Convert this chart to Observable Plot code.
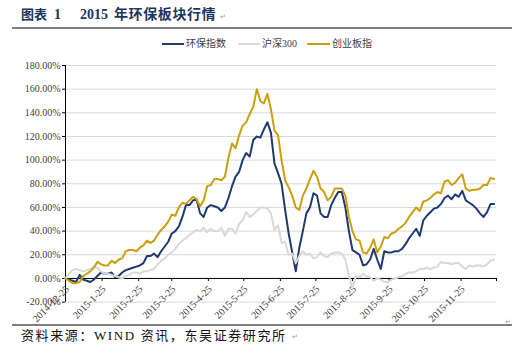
<!DOCTYPE html>
<html>
<head>
<meta charset="utf-8">
<script src="https://cdn.jsdelivr.net/npm/d3@7"></script>
<script src="https://cdn.jsdelivr.net/npm/@observablehq/plot@0.6"></script>
<style>
  body { margin: 0; background: #fff; }
  #wrap { position: relative; width: 512px; height: 353px; overflow: hidden; background: #fff; }
  .abs { position: absolute; white-space: nowrap; }
  .title { font-family: "Liberation Serif", "Noto Sans CJK SC", serif; font-weight: bold; font-size: 14px; color: #1b3560; line-height: 18px; top: 6px; }
  .rule { position: absolute; left: 12px; width: 500px; height: 2px; background: #7f7f7f; }
  .leg { font-family: "Liberation Serif", "Noto Sans CJK SC", serif; font-size: 10px; color: #404040; line-height: 14px; top: 37px; }
  .sw { position: absolute; height: 2px; top: 43px; }
  .cap { font-family: "Liberation Serif", "Noto Sans CJK SC", serif; font-size: 13px; color: #111; line-height: 16px; top: 328px; left: 21px; letter-spacing: 1.6px; }
  .pm { font-family: "DejaVu Sans", sans-serif; font-size: 7px; color: #999; }
</style>
</head>
<body>
<div id="wrap">
  <span class="abs title" style="left:21px;font-size:13px">图表</span>
  <span class="abs title" style="left:54px">1</span>
  <span class="abs title" style="left:80px">2015</span>
  <span class="abs title" style="left:114px;letter-spacing:0.6px">年环保板块行情</span>
  <span class="abs pm" style="left:220px;top:13px">↵</span>
  <div class="rule" style="top:27px"></div>

  <div class="sw" style="left:162px;width:22px;background:#1f3a6e"></div>
  <span class="abs leg" style="left:186px">环保指数</span>
  <div class="sw" style="left:238px;width:22px;background:#d9d9d9"></div>
  <span class="abs leg" style="left:262px">沪深300</span>
  <div class="sw" style="left:307px;width:23px;background:#c9a010"></div>
  <span class="abs leg" style="left:332px">创业板指</span>

  <div id="chart" class="abs" style="left:0;top:55px"></div>

  <span class="abs pm" style="left:505px;top:318px">↵</span>
  <div class="rule" style="top:324px;height:1.5px"></div>
  <span class="abs cap">资料来源：WIND 资讯，东吴证券研究所</span>
  <span class="abs pm" style="left:292px;top:333px">↵</span>
</div>
<script>
// Dates sampled from the chart (every third calendar day)
const dates = [
  "2014-12-25","2014-12-28","2014-12-31","2015-01-03","2015-01-06","2015-01-09","2015-01-12","2015-01-15","2015-01-18","2015-01-21",
  "2015-01-24","2015-01-27","2015-01-30","2015-02-02","2015-02-05","2015-02-08","2015-02-11","2015-02-14","2015-02-17","2015-02-20",
  "2015-02-23","2015-02-26","2015-03-01","2015-03-04","2015-03-07","2015-03-10","2015-03-13","2015-03-16","2015-03-19","2015-03-22",
  "2015-03-25","2015-03-28","2015-03-31","2015-04-03","2015-04-06","2015-04-09","2015-04-12","2015-04-15","2015-04-18","2015-04-21",
  "2015-04-24","2015-04-27","2015-04-30","2015-05-03","2015-05-06","2015-05-09","2015-05-12","2015-05-15","2015-05-18","2015-05-21",
  "2015-05-24","2015-05-27","2015-05-30","2015-06-02","2015-06-05","2015-06-08","2015-06-11","2015-06-14","2015-06-17","2015-06-20",
  "2015-06-23","2015-06-26","2015-06-29","2015-07-02","2015-07-05","2015-07-08","2015-07-11","2015-07-14","2015-07-17","2015-07-20",
  "2015-07-23","2015-07-26","2015-07-29","2015-08-01","2015-08-04","2015-08-07","2015-08-10","2015-08-13","2015-08-16","2015-08-19",
  "2015-08-22","2015-08-25","2015-08-28","2015-08-31","2015-09-03","2015-09-06","2015-09-09","2015-09-12","2015-09-15","2015-09-18",
  "2015-09-21","2015-09-24","2015-09-27","2015-09-30","2015-10-03","2015-10-06","2015-10-09","2015-10-12","2015-10-15","2015-10-18",
  "2015-10-21","2015-10-24","2015-10-27","2015-10-30","2015-11-02","2015-11-05","2015-11-08","2015-11-11","2015-11-14","2015-11-17",
  "2015-11-20","2015-11-23","2015-11-26","2015-11-29","2015-12-02","2015-12-05","2015-12-08","2015-12-11","2015-12-14","2015-12-17",
  "2015-12-20","2015-12-23"
];

// 环保指数 (%)
const envIndex = [
  0,-1,-2,-3,3,-1,-2,-3,-1,2,
  5,4,4,5,1,2,5,7,8,9,
  10,11,13,19,19,21,18,23,27,31,
  38,40,44,52,62,62,66,67,55,52,
  60,62,61,60,57,60,68,78,86,90,
  100,106,103,117,120,119,126,132,123,97,
  89,80,58,38,22,6,26,40,55,60,
  72,70,55,52,52,62,68,73,73,60,
  40,24,22,20,11,12,16,25,16,8,
  23,22,22,23,23,25,29,34,38,42,
  36,49,53,56,59,60,63,68,70,67,
  71,69,74,66,64,62,59,55,52,56,
  63,63
];

// 沪深300 (%)
const hs300 = [
  0,4,7,8,7,6,7,8,10,9,
  6,4,4,3,2,1,0,2,3,5,
  5,4,6,6,7,8,12,15,17,20,
  22,25,29,32,34,37,39,41,40,43,
  39,42,40,40,43,36,42,42,38,46,
  49,56,52,54,57,60,60,59,55,41,
  45,30,31,20,21,13,19,23,20,21,
  17,18,22,19,18,21,22,22,21,16,
  2,-8,2,1,4,2,1,-2,0,-1,
  -3,-3,-1,0,1,2,4,5,5,6,
  8,8,9,8,9,10,14,13,13,12,
  13,13,10,8,11,10,11,11,10,12,
  15,16
];

// 创业板指 (%)
const gem = [
  0,-2,-4,-4,-3,2,4,6,9,14,
  12,11,11,15,13,16,17,23,24,24,
  23,26,28,32,30,32,37,41,44,48,
  54,53,60,64,63,66,69,67,61,66,
  78,79,84,84,83,86,102,114,110,121,
  129,132,139,145,160,150,148,156,143,125,
  121,100,83,77,70,60,58,70,76,84,
  91,86,76,73,66,69,76,76,76,70,
  52,40,33,32,22,21,26,33,22,27,
  35,34,38,39,42,44,47,52,56,60,
  57,65,66,68,71,73,72,82,83,79,
  81,85,88,76,74,75,75,76,79,79,
  85,84
];

const yTicks = [-20, 0, 20, 40, 60, 80, 100, 120, 140, 160, 180];
const xTickDates = ["2014-12-25","2015-01-25","2015-02-25","2015-03-25","2015-04-25","2015-05-25","2015-06-25","2015-07-25","2015-08-25","2015-09-25","2015-10-25","2015-11-25","2015-12-25"];
const xTickLabels = ["2014-12-25","2015-1-25","2015-2-25","2015-3-25","2015-4-25","2015-5-25","2015-6-25","2015-7-25","2015-8-25","2015-9-25","2015-10-25","2015-11-25"];

const seriesNames = ["环保指数", "沪深300", "创业板指"];
const seriesColors = ["#1f3a6e", "#d9d9d9", "#c9a010"];
const seriesValues = [envIndex, hs300, gem];

const rows = seriesValues.map((vals) => dates.map((d, i) => ({date: new Date(d), value: vals[i]})));

const serif = "'Liberation Serif', 'Times New Roman', serif";

const chart = Plot.plot({
  width: 512,
  height: 270,
  marginLeft: 65,
  marginRight: 16,
  marginTop: 10,
  marginBottom: 23.4,
  style: {fontFamily: serif, fontSize: "10px", color: "#404040", background: "transparent", overflow: "visible"},
  x: {type: "utc", domain: [new Date(xTickDates[0]), new Date(xTickDates[xTickDates.length - 1])], axis: null},
  y: {domain: [-20, 180], axis: null},
  marks: [
    Plot.ruleY(yTicks, {stroke: "#d9d9d9", strokeWidth: 1}),
    Plot.axisY(yTicks, {tickSize: 3, tickPadding: 2, tickFormat: (d) => d.toFixed(2) + "%", fontSize: 10, stroke: "#000", fill: "#404040", label: null}),
    Plot.ruleY([0], {stroke: "#000", strokeWidth: 1}),
    Plot.ruleX([new Date(xTickDates[0])], {stroke: "#000", strokeWidth: 1}),
    Plot.ruleX(xTickDates, {x: (d) => new Date(d), y1: 0, y2: -2.6, stroke: "#000", strokeWidth: 1}),
    Plot.text(xTickLabels, {x: (d, i) => new Date(xTickDates[i]), y: 0, text: (d) => d, rotate: -45, textAnchor: "end", dx: 2, dy: 9, fontSize: 10, fill: "#404040"}),
    ...rows.map((r, i) => Plot.line(r, {x: "date", y: "value", stroke: seriesColors[i], strokeWidth: 2, title: () => seriesNames[i]}))
  ]
});
document.getElementById("chart").appendChild(chart);
</script>
</body>
</html>
